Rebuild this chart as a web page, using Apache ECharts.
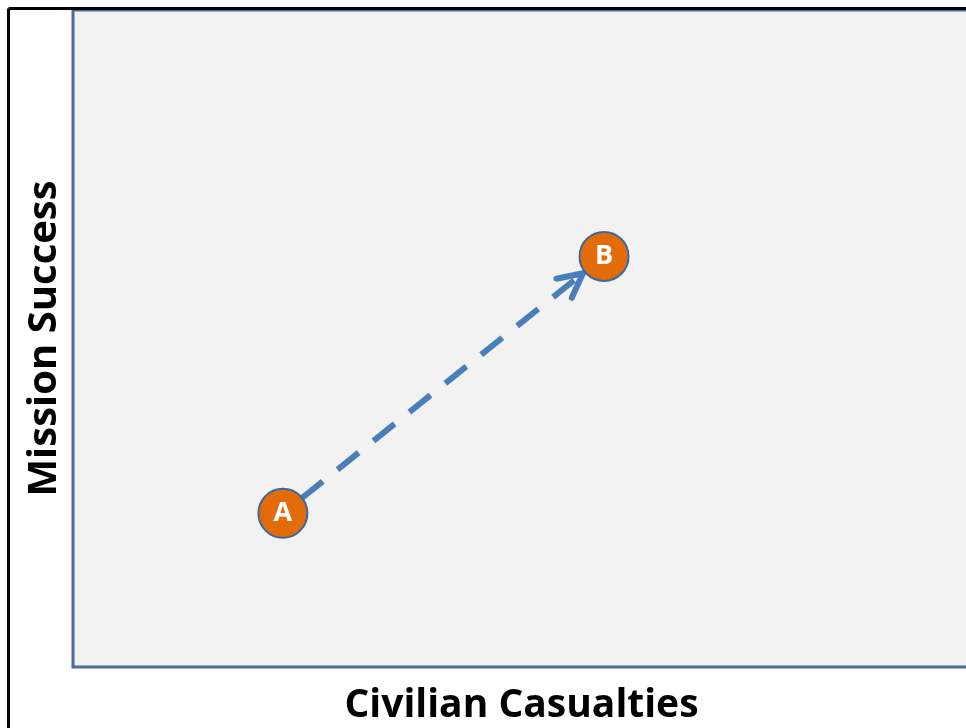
<!DOCTYPE html>
<html>
<head>
<meta charset="utf-8">
<script src="https://cdn.jsdelivr.net/npm/echarts@6/dist/echarts.min.js"></script>
<style>
  html, body { margin: 0; padding: 0; background: #fff; }
  #chart { width: 966px; height: 728px; }
</style>
</head>
<body>
<div id="chart"></div>
<script>
// points (axes run 0..100, no ticks shown)
const pointNames = ['A', 'B'];
const civilianCasualties = [23.4, 59.2];
const missionSuccess = [23.4, 62.5];
// arrow goes from first point to second
const arrowPath = [[0, 1]];

const chartDom = document.getElementById('chart');
const myChart = echarts.init(chartDom);

const blue = '#4a7ebb';
const font = '"Open Sans", "Noto Sans", sans-serif';

const pointData = pointNames.map((n, i) => ({ name: n, value: [civilianCasualties[i], missionSuccess[i]] }));
const arrowData = arrowPath.map(([a, b]) => [civilianCasualties[a], missionSuccess[a], civilianCasualties[b], missionSuccess[b]]);

function renderArrow(params, api) {
  const p0 = api.coord([api.value(0), api.value(1)]);
  const p1 = api.coord([api.value(2), api.value(3)]);
  const dx = p1[0] - p0[0], dy = p1[1] - p0[1];
  const len = Math.sqrt(dx * dx + dy * dy);
  const ux = dx / len, uy = dy / len;
  const s = [p0[0] + ux * 24, p0[1] + uy * 24];
  const e = [p1[0] - ux * 27, p1[1] - uy * 27];
  const ang = Math.atan2(-uy, -ux);
  const arm = 27, spread = 27 * Math.PI / 180;
  const a1 = [e[0] + arm * Math.cos(ang + spread), e[1] + arm * Math.sin(ang + spread)];
  const a2 = [e[0] + arm * Math.cos(ang - spread), e[1] + arm * Math.sin(ang - spread)];
  return {
    type: 'group',
    children: [
      {
        type: 'line',
        shape: { x1: s[0], y1: s[1], x2: e[0] - ux * 3, y2: e[1] - uy * 3 },
        style: { stroke: blue, lineWidth: 6, lineDash: [27, 19] }
      },
      {
        type: 'polyline',
        shape: { points: [a1, e, a2] },
        style: { stroke: blue, lineWidth: 6, fill: null, lineCap: 'round', lineJoin: 'round' }
      }
    ]
  };
}

const option = {
  animation: false,
  backgroundColor: '#ffffff',
  grid: {
    left: 73, right: -4, top: 10, bottom: 61,
    outerBoundsMode: 'none',
    containLabel: false,
    show: true,
    backgroundColor: '#f2f2f2',
    borderColor: '#4a6c9c',
    borderWidth: 3
  },
  xAxis: {
    type: 'value', min: 0, max: 100,
    name: 'Civilian Casualties',
    nameLocation: 'middle',
    nameGap: 19,
    nameTextStyle: { fontFamily: font, fontWeight: 'bold', fontSize: 39, color: '#000' },
    axisLine: { show: false }, axisTick: { show: false }, axisLabel: { show: false }, splitLine: { show: false }
  },
  yAxis: {
    type: 'value', min: 0, max: 100,
    name: 'Mission Success',
    nameLocation: 'middle',
    nameGap: 8,
    nameTextStyle: { fontFamily: font, fontWeight: 'bold', fontSize: 40, color: '#000' },
    axisLine: { show: false }, axisTick: { show: false }, axisLabel: { show: false }, splitLine: { show: false }
  },
  graphic: [
    { type: 'line', shape: { x1: 8.5, y1: 8.5, x2: 966, y2: 8.5 }, style: { stroke: '#000', lineWidth: 3 }, z: 100 },
    { type: 'line', shape: { x1: 8.5, y1: 8.5, x2: 8.5, y2: 728 }, style: { stroke: '#000', lineWidth: 3 }, z: 100 }
  ],
  series: [
    {
      type: 'custom',
      renderItem: renderArrow,
      data: arrowData,
      z: 2
    },
    {
      type: 'scatter',
      data: pointData,
      symbol: 'circle',
      symbolSize: 49,
      itemStyle: { color: '#e36c0a', borderColor: '#3d67a0', borderWidth: 2, opacity: 1 },
      label: {
        show: true, position: 'inside', formatter: '{b}',
        color: '#fff', fontFamily: font, fontWeight: 'bold', fontSize: 27
      },
      z: 3
    }
  ]
};

myChart.setOption(option);
</script>
</body>
</html>
